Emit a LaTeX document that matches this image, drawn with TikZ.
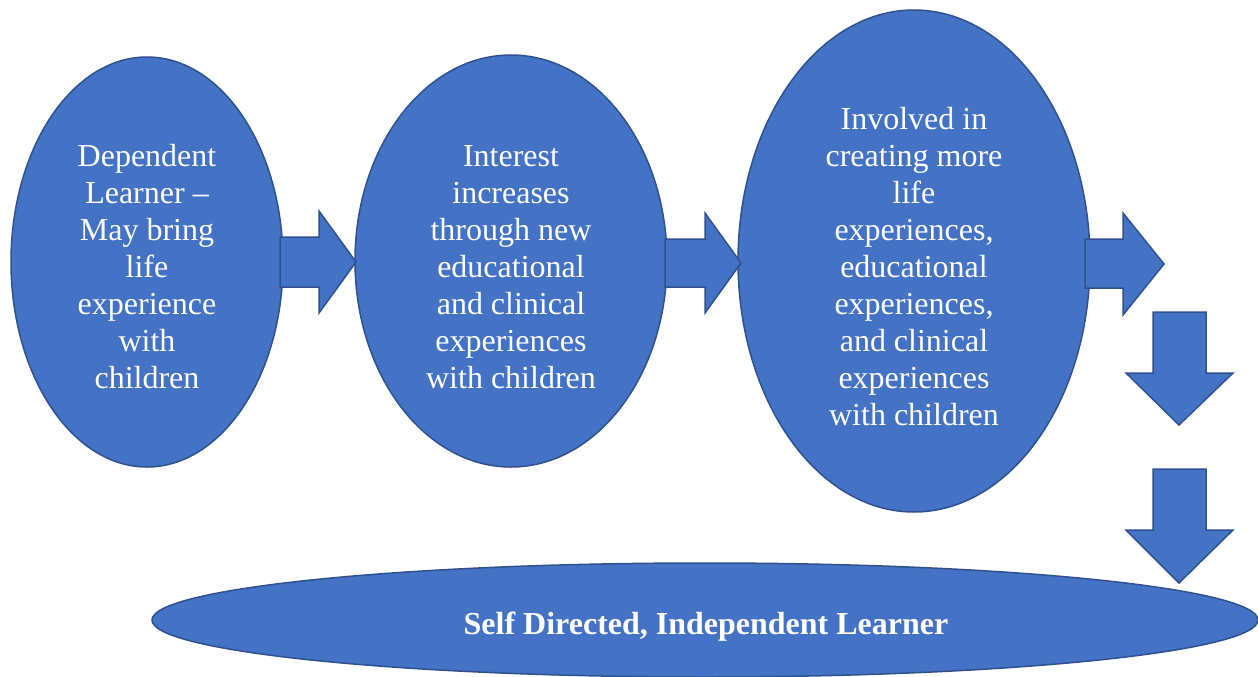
\documentclass[tikz,border=0pt]{standalone}
\usetikzlibrary{shapes.geometric}
\usepackage{fontspec}
\setmainfont{Liberation Serif}
\definecolor{fillblue}{HTML}{4472C4}
\definecolor{edgeblue}{HTML}{2F528F}
\begin{document}
\begin{tikzpicture}[x=1pt,y=-1pt,
  blob/.style={ellipse, fill=fillblue, draw=edgeblue, line width=1.5pt, inner sep=0pt,
     text=white, align=center, font=\fontsize{32}{37}\selectfont},
  label/.style={text=white, align=center, font=\fontsize{32}{37}\selectfont},
  blockarrow/.style={fill=fillblue, draw=edgeblue, line width=1.5pt, line join=miter}]
\useasboundingbox (0,0) rectangle (1258,677);
% ellipses
\node[blob, minimum width=272pt, minimum height=410pt] (e1) at (147,262) {};
\node[blob, minimum width=312pt, minimum height=412pt] (e2) at (511,261) {};
\node[blob, minimum width=352pt, minimum height=502pt] (e3) at (914,261) {};
\node[blob, minimum width=1106pt, minimum height=114pt] (e4) at (705,620) {};
% texts
\node[label] (t1) at (147,267)
  {Dependent\\Learner --\\May bring\\life\\experience\\with\\children};
\node[label] (t2) at (511,267)
  {Interest\\increases\\through new\\educational\\and clinical\\experiences\\with children};
\node[label] (t3) at (914,267)
  {Involved in\\creating more\\life\\experiences,\\educational\\experiences,\\and clinical\\experiences\\with children};
\node[label, font=\fontsize{32}{37}\selectfont\bfseries] (t4) at (706,627)
  {Self Directed, Independent Learner};
% right block arrows
\draw[blockarrow] (280,237) -- (319,237) -- (319,211) -- (356,262) -- (319,313) -- (319,287) -- (280,287) -- cycle;
\draw[blockarrow] (665,239) -- (705,239) -- (705,213) -- (741,263) -- (705,313) -- (705,287) -- (665,287) -- cycle;
\draw[blockarrow] (1085,239) -- (1123,239) -- (1123,213) -- (1164,264) -- (1123,315) -- (1123,288) -- (1085,288) -- cycle;
% down block arrows
\draw[blockarrow] (1153,312) -- (1206,312) -- (1206,373) -- (1233,373) -- (1179,425) -- (1126,373) -- (1153,373) -- cycle;
\draw[blockarrow] (1153,469) -- (1206,469) -- (1206,530) -- (1233,530) -- (1179,583) -- (1126,530) -- (1153,530) -- cycle;
\end{tikzpicture}
\end{document}
